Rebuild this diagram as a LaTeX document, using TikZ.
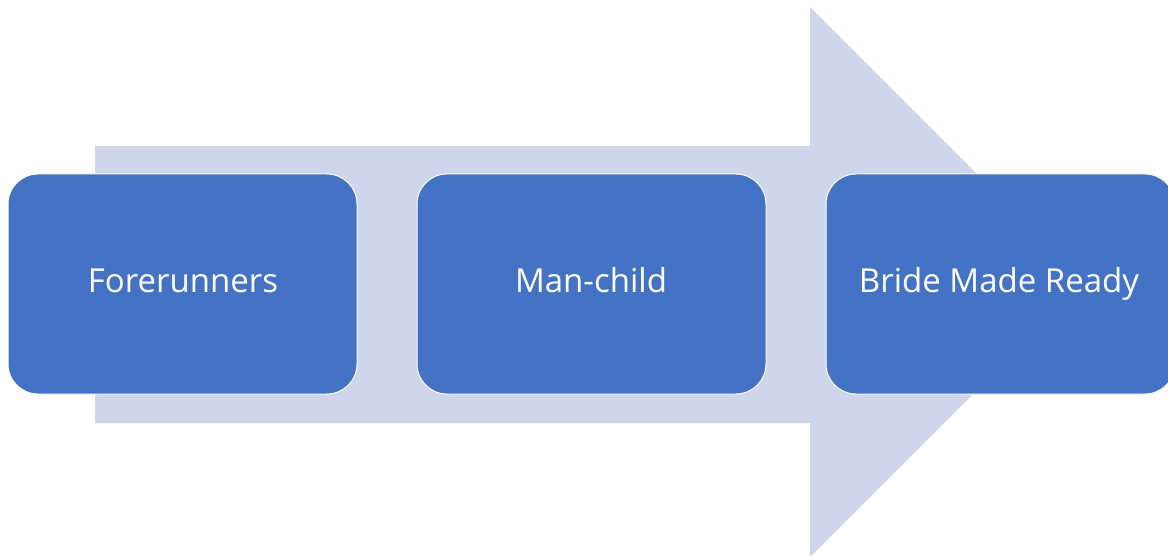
\documentclass[tikz,border=0pt]{standalone}
\usepackage{fontspec}
\setmainfont{Open Sans}
\definecolor{boxblue}{HTML}{4472C4}
\definecolor{arrowfill}{HTML}{CFD5EA}
\begin{document}
\begin{tikzpicture}[x=1pt,y=-1pt,
  stagebox/.style={draw=white, line width=1pt, fill=boxblue, rounded corners=30pt},
  stagetext/.style={text=white, font=\fontsize{33}{39}\selectfont, inner sep=0pt, anchor=base},
]
\useasboundingbox (0,0) rectangle (1168,556);
\fill[arrowfill] (95,146) -- (810,146) -- (810,7) -- (1085,282) -- (810,557) -- (810,423) -- (95,423) -- cycle;
\draw[stagebox] (8,174) rectangle (357,394);
\draw[stagebox] (417,174) rectangle (766,394);
\draw[stagebox] (826,174) rectangle (1175,394);
\node[stagetext] (a) at (183,292) {Forerunners};
\node[stagetext] (b) at (591,292) {Man-child};
\node[stagetext] (c) at (999,292) {Bride Made Ready};
\end{tikzpicture}
\end{document}
